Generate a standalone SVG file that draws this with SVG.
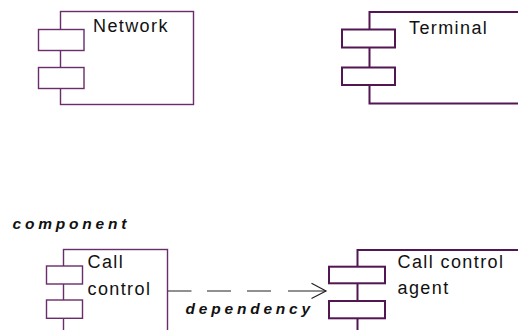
<svg xmlns="http://www.w3.org/2000/svg" width="518" height="330" viewBox="0 0 518 330">
  <style>
    .bg { fill: #ffffff; }
    .body { fill: #ffffff; stroke: #6a2c6a; stroke-width: 1.4; }
    .port { fill: #ffffff; stroke: #6a2c6a; stroke-width: 1.4; }
    .bold .body, .bold .port { stroke: #521652; stroke-width: 2; }
    .name { font-family: "Liberation Sans", Arial, sans-serif; font-size: 18px; letter-spacing: 1.4px; fill: #111111; }
    .note { font-family: "Liberation Sans", Arial, sans-serif; font-size: 15.5px; font-weight: bold; font-style: italic; letter-spacing: 3.8px; fill: #111111; }
    .dep { fill: none; stroke: #222222; stroke-width: 1.2; }
  </style>
  <rect class="bg" x="0" y="0" width="518" height="330"/>

  <g id="network">
    <rect class="body" x="60.5" y="11.5" width="133" height="93"/>
    <rect class="port" x="38.5" y="29.5" width="45.5" height="21"/>
    <rect class="port" x="38.5" y="67.5" width="45.5" height="21"/>
    <text class="name" x="93" y="31.5">Network</text>
  </g>

  <g id="terminal" class="bold">
    <rect class="body" x="369.5" y="12" width="160" height="91.5"/>
    <rect class="port" x="342" y="29.5" width="53" height="18"/>
    <rect class="port" x="342" y="67.5" width="53" height="17.5"/>
    <text class="name" x="409" y="34">Terminal</text>
  </g>

  <text class="note" x="12.5" y="229">component</text>

  <g id="call-control">
    <rect class="body" x="63.5" y="249.5" width="104" height="90"/>
    <rect class="port" x="46.5" y="266" width="36" height="18"/>
    <rect class="port" x="46.5" y="300" width="36" height="18.3"/>
    <text class="name" x="87.5" y="268">Call</text>
    <text class="name" x="87.5" y="295">control</text>
  </g>

  <g id="call-control-agent" class="bold">
    <rect class="body" x="357.5" y="250" width="170" height="90"/>
    <rect class="port" x="329" y="266.7" width="56" height="16.6"/>
    <rect class="port" x="329" y="301" width="56" height="17.3"/>
    <text class="name" x="397.5" y="267.7">Call control</text>
    <text class="name" x="397.5" y="294.3">agent</text>
  </g>

  <g id="connectors">
    <path class="dep" d="M168 291 H191.5 M207 291 H231 M247 291 H271 M288 291 H326"/>
    <polyline class="dep" points="311.5,283.3 326,291 311.5,298.5"/>
    <text class="note" x="185.5" y="313.5">dependency</text>
  </g>
</svg>
